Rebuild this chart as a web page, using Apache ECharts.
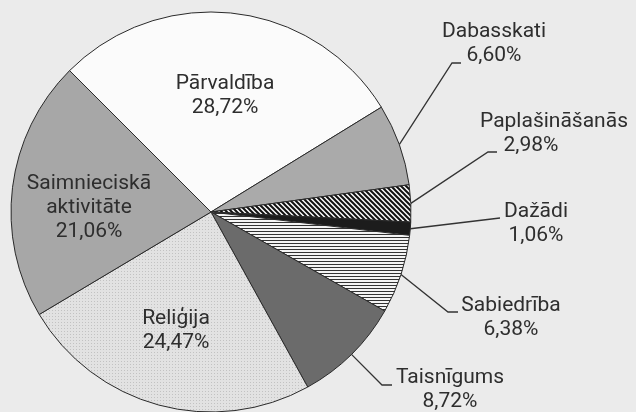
<!DOCTYPE html>
<html>
<head>
<meta charset="utf-8">
<script src="https://cdn.jsdelivr.net/npm/echarts@6/dist/echarts.min.js"></script>
<style>
  html, body { margin: 0; padding: 0; background: #ebebeb; }
  #main { width: 636px; height: 412px; }
</style>
</head>
<body>
<div id="main"></div>
<script>
// dati
var names = ['Pārvaldība', 'Dabasskati', 'Paplašināšanās', 'Dažādi', 'Sabiedrība', 'Taisnīgums', 'Reliģija', 'Saimnieciskā aktivitāte'];
var values = [28.72, 6.60, 2.98, 1.06, 6.38, 8.72, 24.47, 21.06];

// faktūras (raksti) sektoriem
function makePattern(w, h, draw) {
    var c = document.createElement('canvas');
    c.width = w; c.height = h;
    draw(c.getContext('2d'), w, h);
    return { image: c, repeat: 'repeat' };
}
var diagPattern = makePattern(5, 5, function (ctx, w, h) {
    ctx.fillStyle = '#fafafa';
    ctx.fillRect(0, 0, w, h);
    ctx.strokeStyle = '#111';
    ctx.lineWidth = 2;
    ctx.beginPath();
    ctx.moveTo(-w, -h); ctx.lineTo(2 * w, 2 * h);
    ctx.moveTo(0, -h); ctx.lineTo(2 * w, h);
    ctx.moveTo(-w, 0); ctx.lineTo(w, 2 * h);
    ctx.stroke();
});
var hlinePattern = makePattern(4, 3, function (ctx, w, h) {
    ctx.fillStyle = '#f4f4f4';
    ctx.fillRect(0, 0, w, h);
    ctx.fillStyle = '#333';
    ctx.fillRect(0, 0, w, 1);
});
var dotPattern = makePattern(3, 3, function (ctx, w, h) {
    ctx.fillStyle = '#e2e2e2';
    ctx.fillRect(0, 0, w, h);
    ctx.fillStyle = '#c2c2c2';
    ctx.fillRect(1, 1, 1, 1);
});

var fills = ['#fbfbfb', '#aaaaaa', diagPattern, '#1c1c1c', hlinePattern, '#6b6b6b', dotPattern, '#a7a7a7'];

// etiķešu novietojums: [x, y, līnijas lūzums x, līnijas beigas x, līnijas y]
var labelPos = [
    [225, 96],
    [494, 44, 452, 461, 63],
    [554, 134, 488, 497, 152],
    [536, 224, 500, 500, 218],
    [511, 318, 448, 458, 312],
    [450, 390, 382, 392, 385],
    [176, 331],
    [89, 208]
];

var pieData = names.map(function (n, i) {
    var outside = labelPos[i].length > 2;
    return {
        name: n,
        value: values[i],
        itemStyle: { color: fills[i] },
        label: { position: outside ? 'outside' : 'inside' },
        labelLine: { show: outside }
    };
});

var txt = { fontFamily: 'Roboto', fontSize: 21, lineHeight: 24, color: '#2e2e2e' };

var myChart = echarts.init(document.getElementById('main'));
var option = {
    backgroundColor: '#ebebeb',
    animation: false,
    series: [
        {
            type: 'pie',
            center: [211, 212],
            radius: 200,
            startAngle: 135,
            clockwise: true,
            avoidLabelOverlap: false,
            data: pieData,
            itemStyle: {
                borderColor: '#2a2a2a',
                borderWidth: 1
            },
            label: {
                color: txt.color,
                fontFamily: txt.fontFamily,
                fontSize: txt.fontSize,
                lineHeight: txt.lineHeight,
                align: 'center',
                formatter: function (p) {
                    var v = p.value.toFixed(2).replace('.', ',') + '%';
                    if (p.dataIndex === 2) {
                        return '{n|' + p.name + '}\n{s|' + v + '}';
                    }
                    return p.name.replace(' ', '\n') + '\n' + v;
                },
                rich: {
                    n: txt,
                    s: Object.assign({ padding: [0, 46, 0, 0] }, txt)
                }
            },
            labelLine: {
                lineStyle: { color: '#333', width: 1.3 }
            },
            labelLayout: function (params) {
                var p = labelPos[params.dataIndex];
                var res = { x: p[0], y: p[1], align: 'center', verticalAlign: 'middle' };
                if (p.length > 2 && params.labelLinePoints) {
                    var start = params.labelLinePoints[0];
                    res.labelLinePoints = [start, [p[2], p[4]], [p[3], p[4]]];
                }
                return res;
            }
        }
    ]
};
myChart.setOption(option);
</script>
</body>
</html>
